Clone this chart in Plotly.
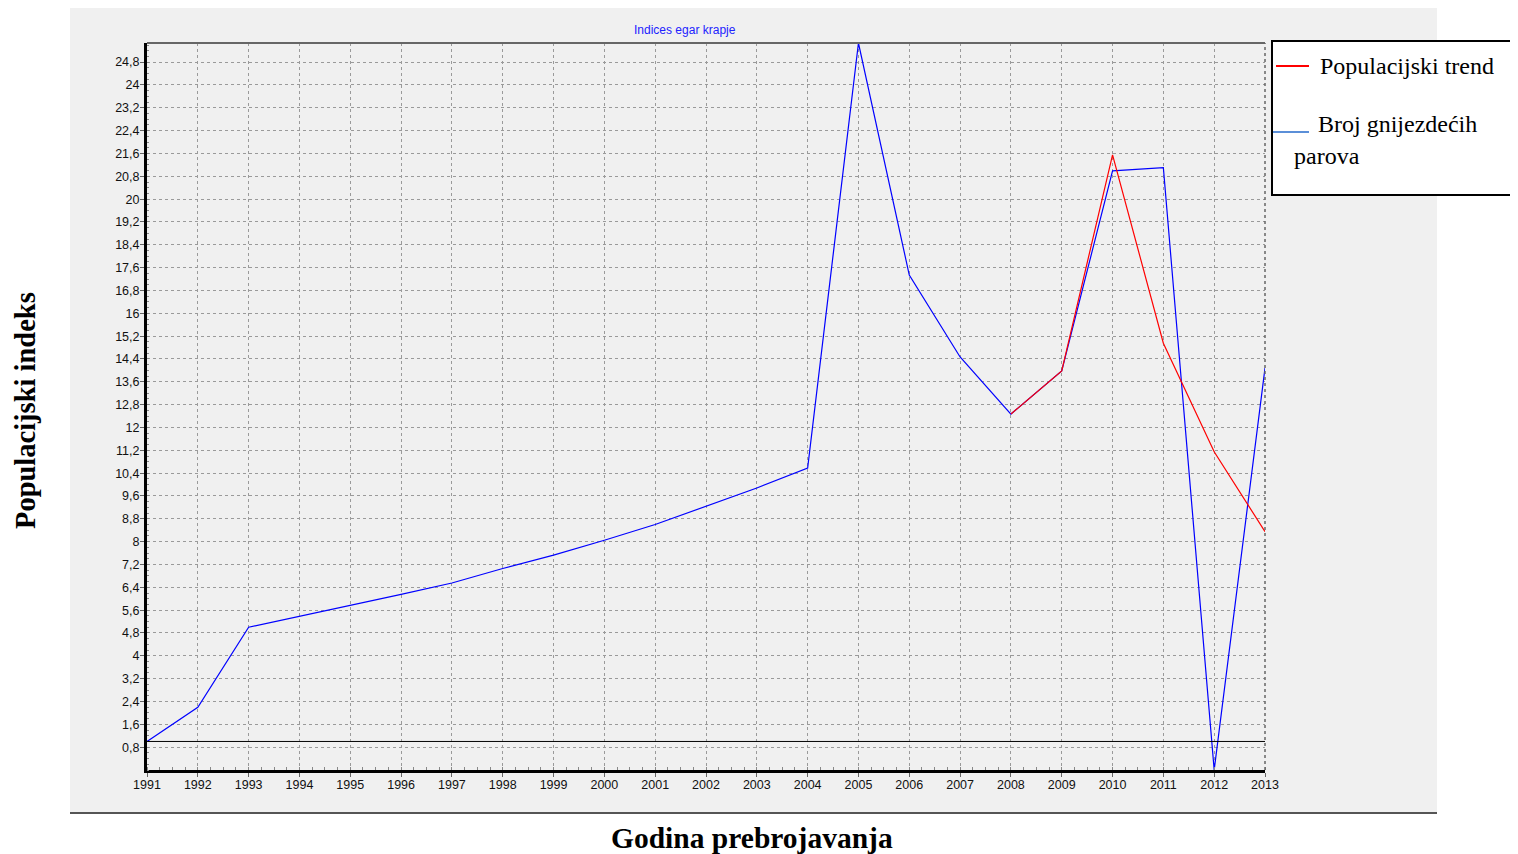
import plotly.graph_objects as go

# page body has an 8px margin, so the figure is drawn 8px smaller and shifted
OFF = 8
W, H = 1518 - OFF, 854 - OFF
L, R, T, B = 147, 1265, 43, 770

years = list(range(1991, 2014))
pairs = [1.0, 2.2, 5.0, 5.38, 5.76, 6.15, 6.55, 7.06, 7.53, 8.05, 8.6, 9.25, 9.88,
         10.58, 25.47, 17.34, 14.47, 12.47, 13.98, 20.99, 21.1, 0.0, 14.08]
trend_years = [2008, 2009, 2010, 2011, 2012, 2013]
trend = [12.47, 13.98, 21.55, 14.95, 11.15, 8.35]
ytick_vals = [round(0.8 * i, 1) for i in range(1, 32)]
ytick_text = [str(v).replace(".0", "").replace(".", ",") for v in ytick_vals]


def px(x):
    return (x - L) / (R - L)


def py(y):
    return (B - y) / (B - T)


fig = go.Figure()
fig.add_trace(go.Scatter(x=years, y=pairs, mode="lines",
                         line=dict(color="#0000FF", width=1.2)))
fig.add_trace(go.Scatter(x=trend_years, y=trend, mode="lines",
                         line=dict(color="#FF0000", width=1.2)))

grid = dict(showgrid=True, gridcolor="#9a9a9a", griddash="3px,3px", gridwidth=1)
tfont = dict(family="Arial", size=12.5, color="#111")
fig.update_xaxes(range=[1991, 2013], tickvals=years, ticks="outside", ticklen=4,
                 ticklabelstandoff=-3,
                 tickcolor="#666", showline=True, linecolor="black", linewidth=3,
                 tickfont=tfont, zeroline=False,
                 minor=dict(dtick=0.25, tick0=1991, ticks="inside", ticklen=3,
                            tickcolor="#888", showgrid=False),
                 **grid)
fig.update_yaxes(range=[0, 25.47], tickvals=ytick_vals, ticktext=ytick_text,
                 ticks="outside", ticklen=4, ticklabelstandoff=-2, tickcolor="#666",
                 showline=True, linecolor="black", linewidth=3,
                 tickfont=tfont, zeroline=False,
                 minor=dict(dtick=0.2, tick0=0, ticks="inside", ticklen=2,
                            tickcolor="#888", showgrid=False),
                 **grid)

shapes = [
    # grey panel behind the chart
    dict(type="rect", xref="paper", yref="paper", x0=px(70), x1=px(1437),
         y0=py(813), y1=py(8), fillcolor="#F0F0F0", line_width=0, layer="below"),
    dict(type="line", xref="paper", yref="paper", x0=px(70), x1=px(1437),
         y0=py(813), y1=py(813), line=dict(color="#555", width=2)),
    # top and right frame
    dict(type="line", xref="paper", yref="paper", x0=0, x1=1, y0=1, y1=1,
         line=dict(color="#666", width=2)),
    dict(type="line", xref="paper", yref="paper", x0=1, x1=1, y0=0, y1=1,
         line=dict(color="#666", width=1.5, dash="dot")),
    # reference line at index 1
    dict(type="line", xref="x", yref="y", x0=1991, x1=2013, y0=1, y1=1,
         line=dict(color="black", width=1)),
    # legend box
    dict(type="rect", xref="paper", yref="paper", x0=px(1272), x1=px(1540),
         y0=py(195), y1=py(41), fillcolor="white", line=dict(color="black", width=2)),
    dict(type="line", xref="paper", yref="paper", x0=px(1276), x1=px(1309),
         y0=py(66), y1=py(66), line=dict(color="#FF0000", width=2)),
    dict(type="line", xref="paper", yref="paper", x0=px(1273), x1=px(1309),
         y0=py(132), y1=py(132), line=dict(color="#5B8FD8", width=2)),
]

serif = "Liberation Serif, Times New Roman, serif"


def label(text, x, y, size, family=serif, color="black", xanchor="center", angle=0):
    return dict(text=text, x=px(x), y=py(y), xref="paper", yref="paper",
                xanchor=xanchor, yanchor="middle", showarrow=False, textangle=angle,
                font=dict(family=family, size=size, color=color))


annotations = [
    label("Indices egar krapje", 685, 30, 12, family="Arial", color="#2222FF"),
    label("<b>Godina prebrojavanja</b>", 752, 838, 29.5),
    label("<b>Populacijski indeks</b>", 25, 411, 28.5, angle=-90),
    label("Populacijski trend", 1318, 66, 24, xanchor="left"),
    label("Broj gnijezdećih", 1316, 124, 24, xanchor="left"),
    label("parova", 1292, 156, 24, xanchor="left"),
]

fig.update_layout(
    width=W, height=H, showlegend=False,
    margin=dict(l=L - OFF, r=W - (R - OFF), t=T - OFF, b=H - (B - OFF)),
    paper_bgcolor="white", plot_bgcolor="#F0F0F0",
    shapes=shapes, annotations=annotations,
)

fig.write_html("out.html")
